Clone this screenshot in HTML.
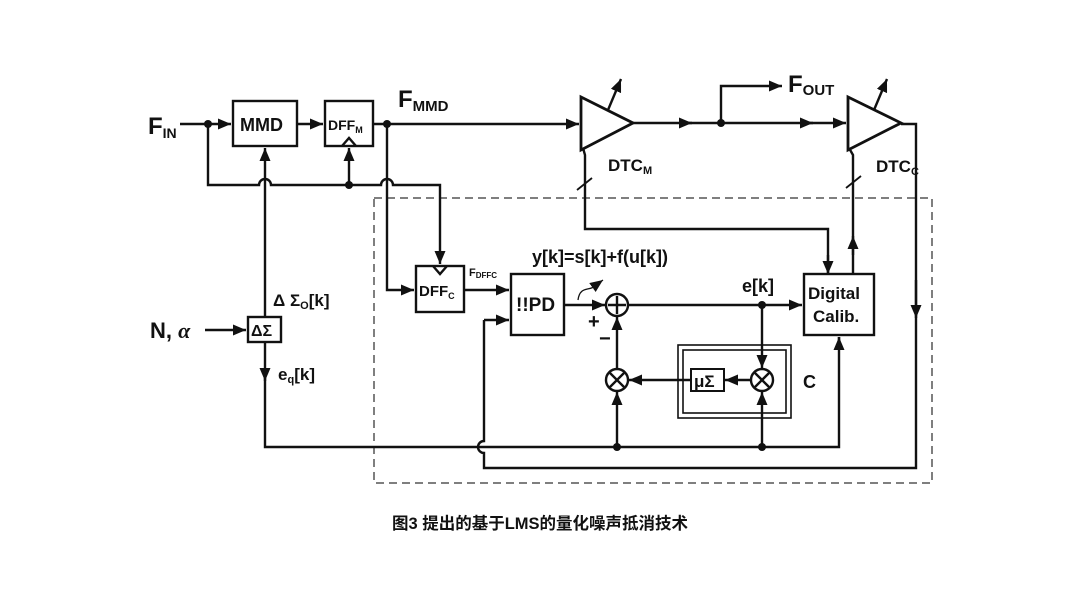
<!DOCTYPE html>
<html><head><meta charset="utf-8"><style>
html,body{margin:0;padding:0;background:#fff;}
svg{display:block}
text{font-family:"Liberation Sans",Arial,sans-serif;font-weight:bold;fill:#111}
</style></head><body>
<svg width="1080" height="607" viewBox="0 0 1080 607" xmlns="http://www.w3.org/2000/svg">
<defs>
<marker id="a" viewBox="0 0 10 10" refX="10" refY="5" markerWidth="13" markerHeight="11" markerUnits="userSpaceOnUse" orient="auto" preserveAspectRatio="none"><path d="M0,0 L10,5 L0,10 z" fill="#111"/></marker>
</defs>
<g stroke="#111" stroke-width="2.4" fill="none">
<rect x="374" y="198" width="558" height="285" stroke="#555" stroke-width="1.5" stroke-dasharray="8,5"/>
<path d="M180,124 H231" marker-end="url(#a)"/>
<rect x="233" y="101" width="64" height="45"/>
<path d="M297,124 H323" marker-end="url(#a)"/>
<rect x="325" y="101" width="48" height="45"/>
<path d="M342,146 L349,138 L356,146"/>
<path d="M373,124 H579" marker-end="url(#a)"/>
<path d="M208,124 V185 H259 a6,6 0 0 1 12,0 H381 a6,6 0 0 1 12,0 H440 V264" marker-end="url(#a)"/>
<path d="M349,185 V148" marker-end="url(#a)"/>
<path d="M265,317 V148" marker-end="url(#a)"/>
<rect x="248" y="317" width="33" height="25"/>
<path d="M205,330 H246" marker-end="url(#a)"/>
<path d="M265,342 V381" marker-end="url(#a)"/>
<path d="M265,378 V447 H839 V337" />
<path d="M839,350 V337" marker-end="url(#a)"/>
<path d="M387,124 V290 H414" marker-end="url(#a)"/>
<rect x="416" y="266" width="48" height="46"/>
<path d="M433,266 L440,274 L447,266"/>
<path d="M464,290 H509" marker-end="url(#a)"/>
<rect x="511" y="274" width="53" height="61"/>
<path d="M484,320 V441 a6,6 0 0 0 0,12 V468 H916 V124 H901"/>
<path d="M484,320 H509" marker-end="url(#a)"/>
<path d="M916,280 V318" marker-end="url(#a)"/>
<path d="M581,97 L633,123 L581,150 Z" stroke-width="2.8"/>
<path d="M608,110 L621,79" marker-end="url(#a)"/>
<path d="M633,123 H692" marker-end="url(#a)"/>
<path d="M688,123 H813" marker-end="url(#a)"/>
<path d="M809,123 H846" marker-end="url(#a)"/>
<path d="M721,123 V86 H782" marker-end="url(#a)"/>
<path d="M848,97 L901,123 L848,150 Z" stroke-width="2.8"/>
<path d="M874,110 L887,79" marker-end="url(#a)"/>
<path d="M583,148 L585,155 V229 H828 V274" />
<path d="M828,255 V274" marker-end="url(#a)"/>
<path d="M577,190 L592,178" stroke-width="1.8"/>
<path d="M853,274 V155 L849,148"/>
<path d="M853,255 V236" marker-end="url(#a)"/>
<path d="M846,188 L861,176" stroke-width="1.8"/>
<rect x="804" y="274" width="70" height="61"/>
<path d="M564,305 H605" marker-end="url(#a)"/>
<circle cx="617" cy="305" r="11"/>
<path d="M617,296 V314 M608,305 H626"/>
<path d="M628,305 H802" marker-end="url(#a)"/>
<path d="M762,305 V368" marker-end="url(#a)"/>
<circle cx="617" cy="380" r="11"/>
<path d="M610,373 L624,387 M624,373 L610,387"/>
<circle cx="762" cy="380" r="11"/>
<path d="M755,373 L769,387 M769,373 L755,387"/>
<path d="M617,369 V317" marker-end="url(#a)"/>
<path d="M617,447 V392" marker-end="url(#a)"/>
<path d="M762,447 V392" marker-end="url(#a)"/>
<path d="M751,380 H725" marker-end="url(#a)"/>
<path d="M691,380 H629" marker-end="url(#a)"/>
<rect x="691" y="369" width="33" height="22" stroke-width="2"/>
<rect x="678" y="345" width="113" height="73" stroke-width="1.6"/>
<rect x="683" y="350" width="103" height="63" stroke-width="1.6"/>
<path d="M578,300 C580,285 590,292 596,285 L603,280" stroke-width="1.3" marker-end="url(#a)"/>
</g>
<g fill="#111">
<circle cx="208" cy="124" r="4"/><circle cx="387" cy="124" r="4"/><circle cx="349" cy="185" r="4"/>
<circle cx="721" cy="123" r="4"/><circle cx="762" cy="305" r="4"/><circle cx="617" cy="447" r="4"/><circle cx="762" cy="447" r="4"/>
</g>
<text x="148" y="134" font-size="24">F<tspan font-size="14" dy="4">IN</tspan></text>
<text x="240" y="131" font-size="18">MMD</text>
<text x="328" y="130" font-size="14">DFF<tspan font-size="9" dy="3">M</tspan></text>
<text x="398" y="107" font-size="24">F<tspan font-size="15" dy="4">MMD</tspan></text>
<text x="419" y="296" font-size="15">DFF<tspan font-size="9" dy="3">C</tspan></text>
<text x="469" y="276" font-size="11">F<tspan font-size="8" dy="2">DFFC</tspan></text>
<text x="516" y="311" font-size="19">!!PD</text>
<text x="532" y="263" font-size="18">y[k]=s[k]+f(u[k])</text>
<text x="588" y="328" font-size="20">+</text>
<text x="599" y="345" font-size="20">−</text>
<text x="742" y="292" font-size="18">e[k]</text>
<text x="808" y="299" font-size="17">Digital</text>
<text x="813" y="322" font-size="17">Calib.</text>
<text x="694" y="387" font-size="17">μΣ</text>
<text x="803" y="388" font-size="18">C</text>
<text x="608" y="171" font-size="17">DTC<tspan font-size="11" dy="3">M</tspan></text>
<text x="876" y="172" font-size="17">DTC<tspan font-size="11" dy="3">C</tspan></text>
<text x="788" y="92" font-size="24">F<tspan font-size="15" dy="3">OUT</tspan></text>
<text x="150" y="338" font-size="22">N, <tspan font-style="italic" font-family="Liberation Serif">α</tspan></text>
<text x="251" y="336" font-size="16">ΔΣ</text>
<text x="273" y="306" font-size="17">Δ Σ<tspan font-size="11" dy="3">O</tspan><tspan dy="-3">[k]</tspan></text>
<text x="278" y="380" font-size="17">e<tspan font-size="11" dy="3">q</tspan><tspan dy="-3">[k]</tspan></text>
<text x="540" y="529" font-size="16.5" text-anchor="middle" style="font-family:'Liberation Sans','Noto Sans CJK SC',sans-serif">图3 提出的基于LMS的量化噪声抵消技术</text>
</svg>
</body></html>
